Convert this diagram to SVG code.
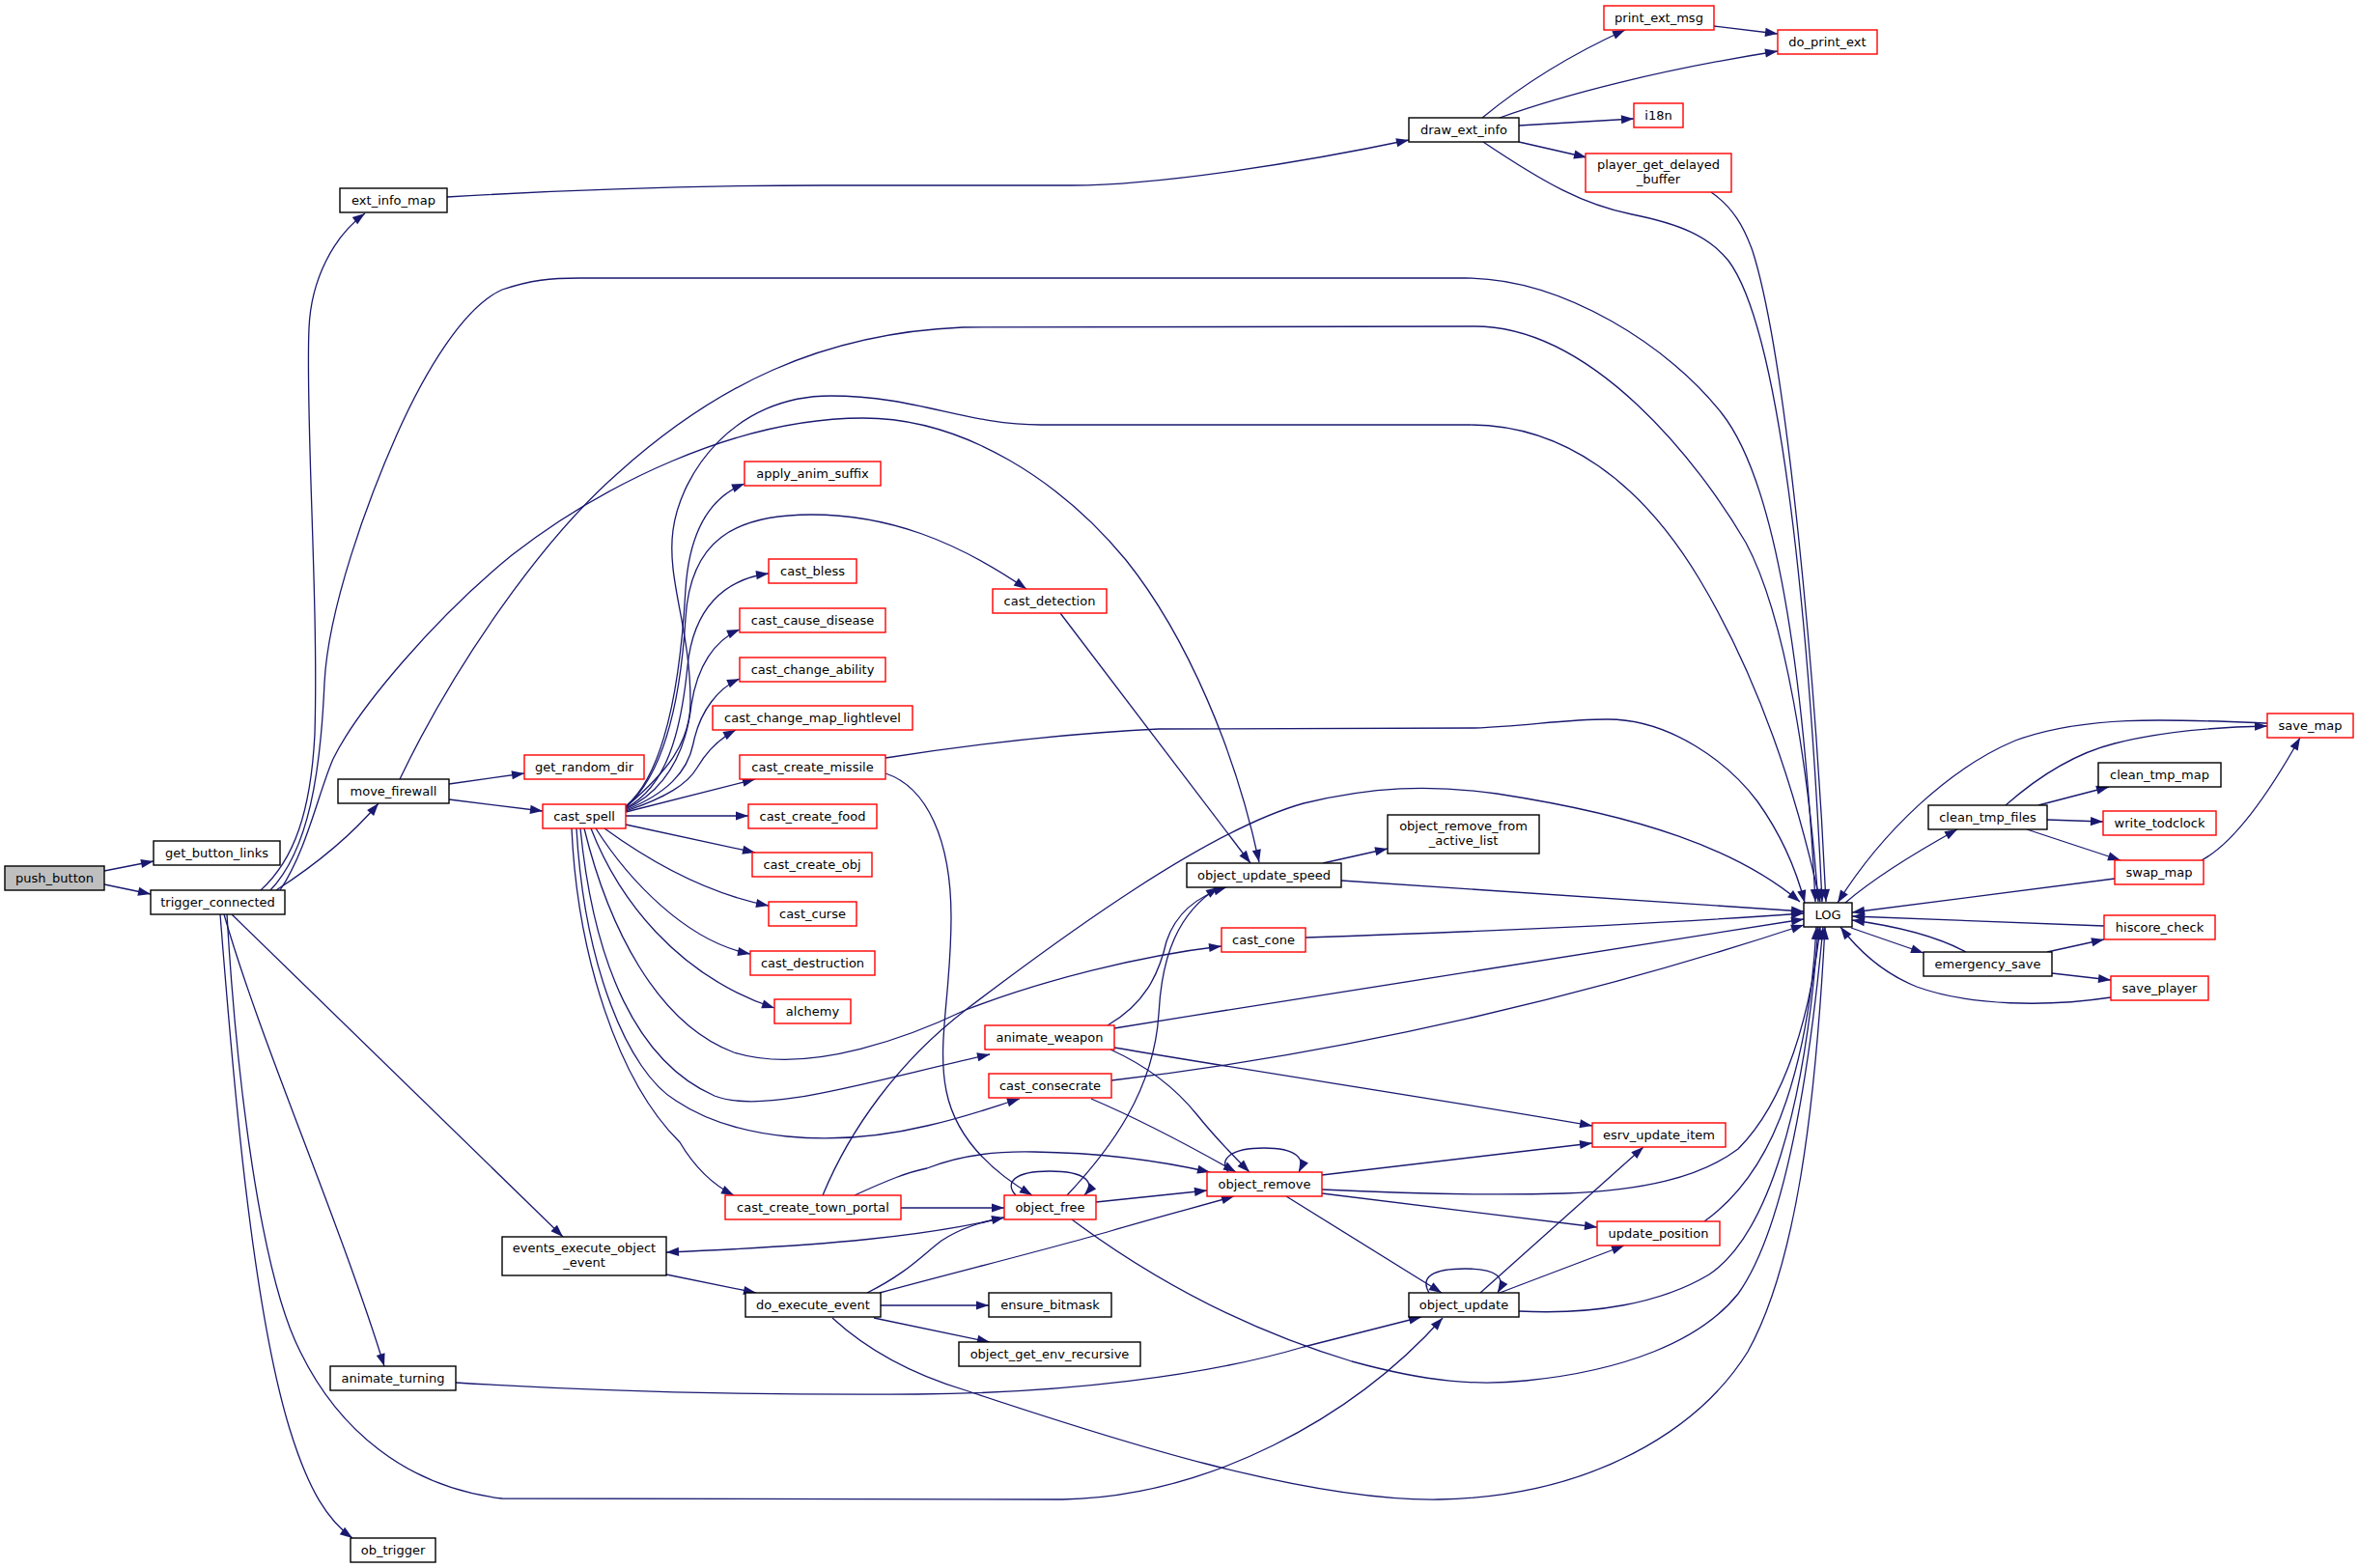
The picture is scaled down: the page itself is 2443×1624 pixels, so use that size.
<svg xmlns="http://www.w3.org/2000/svg" width="2443" height="1624" viewBox="0 0 2443 1624">
<style>
.n rect{fill:#fff;stroke:#000;stroke-width:1.4}
.n.r rect{stroke:#ff0000}
.n.root rect{fill:#bfbfbf}
.n text{font-family:"DejaVu Sans","Liberation Sans",sans-serif;font-size:13px;fill:#000;text-anchor:middle}
#edges path{fill:none;stroke:#191970;stroke-width:1.3;marker-end:url(#a)}
</style>
<defs>
<marker id="a" markerWidth="14" markerHeight="10" refX="13" refY="4.6" orient="auto" markerUnits="userSpaceOnUse" overflow="visible"><path d="M0,0 L13,4.6 L0,9.2 z" fill="#191970"/></marker>
</defs>
<rect width="2443" height="1624" fill="#fff"/>
<g id="edges">
<path d="M108,902 L159,892"/>
<path d="M108,916 L156,926"/>
<path d="M270,922 C305,890 322,840 326,760 C330,620 316,430 320,340 C322,290 345,245 378,221"/>
<path d="M286,922 C320,900 360,870 392,832"/>
<path d="M280,922 C320,880 332,800 336,707 C340,630 380,520 411,450 C440,385 480,318 520,300 C550,290 570,288 600,288 L1517,288 C1620,288 1730,360 1783,428 C1840,500 1868,700 1880,934"/>
<path d="M290,922 C318,880 330,820 345,786 C370,735 450,640 530,575 C620,505 760,433 894,433 C1000,433 1100,500 1166,580 C1230,660 1280,780 1304,893"/>
<path d="M240,947 L583,1281"/>
<path d="M232,947 C270,1080 350,1260 398,1415"/>
<path d="M228,947 C240,1100 260,1350 300,1480 C320,1545 340,1575 365,1593"/>
<path d="M235,947 C245,1120 270,1320 311,1400 C350,1480 420,1540 520,1552 L1100,1553 C1250,1550 1400,1470 1494,1365"/>
<path d="M463,204 C600,196 750,192 854,192 L1110,192 C1200,192 1350,168 1459,145"/>
<path d="M465,812 L543,801"/>
<path d="M465,828 L562,840"/>
<path d="M414,807 C470,690 560,560 640,490 C740,400 850,345 997,339 L1527,338 C1650,338 1760,480 1808,562 C1850,640 1873,800 1883,934"/>
<path d="M1535,122 C1580,85 1630,55 1683,31"/>
<path d="M1553,122 C1620,98 1720,72 1841,53"/>
<path d="M1573,130 L1692,123"/>
<path d="M1573,147 L1643,163"/>
<path d="M1536,147 C1600,190 1640,212 1690,222 C1740,232 1770,245 1790,270 C1850,350 1876,700 1887,934"/>
<path d="M1775,27 L1841,35"/>
<path d="M1772,199 C1795,215 1806,235 1815,260 C1850,370 1880,700 1891,934"/>
<path d="M648,835 C690,800 705,700 710,610 C714,550 735,515 771,501"/>
<path d="M648,837 C690,815 705,760 712,690 C718,630 750,600 796,594"/>
<path d="M648,838 C690,818 710,780 716,730 C722,690 740,663 766,652"/>
<path d="M648,839 C690,822 712,800 718,770 C725,735 745,712 766,703"/>
<path d="M648,840 C690,826 712,812 722,795 C732,778 745,765 762,756"/>
<path d="M648,841 L782,807"/>
<path d="M648,845 L775,845"/>
<path d="M648,854 L782,883"/>
<path d="M626,858 C670,890 730,925 796,938"/>
<path d="M617,858 C650,910 710,975 777,988"/>
<path d="M612,858 C640,930 700,1010 802,1044"/>
<path d="M648,836 C690,800 705,720 710,640 C715,560 760,533 840,533 C920,533 990,560 1063,610"/>
<path d="M605,858 C630,960 680,1060 760,1090 C840,1115 950,1070 1000,1046 C1080,1015 1180,990 1265,980"/>
<path d="M601,858 C615,1000 660,1100 740,1135 C790,1155 900,1120 1025,1092"/>
<path d="M597,858 C605,1000 650,1110 700,1140 C760,1180 860,1190 960,1166 C1000,1157 1030,1146 1056,1138"/>
<path d="M592,858 C598,990 640,1120 704,1183 C720,1210 740,1228 760,1238"/>
<path d="M648,836 C690,800 715,770 715,727 C715,650 690,600 697,549 C705,490 760,410 860,410 C950,410 1000,440 1078,440 L1522,440 C1620,440 1700,500 1760,600 C1820,700 1860,820 1885,934"/>
<path d="M917,785 C1000,772 1100,760 1200,755 L1527,754 C1580,752 1620,745 1665,745 C1730,745 1790,790 1820,830 C1845,865 1860,900 1869,935"/>
<path d="M917,801 C960,815 985,870 985,950 C985,1030 970,1080 980,1130 C990,1180 1030,1215 1069,1238"/>
<path d="M1098,635 L1295,894"/>
<path d="M1352,971 C1500,966 1700,958 1868,946"/>
<path d="M1147,1062 C1185,1040 1200,1010 1208,975 C1218,945 1240,928 1270,919"/>
<path d="M1154,1065 C1400,1025 1650,985 1868,952"/>
<path d="M1154,1085 C1300,1110 1500,1140 1649,1166"/>
<path d="M1150,1087 C1190,1105 1220,1130 1240,1155 C1260,1180 1280,1200 1294,1214"/>
<path d="M1151,1119 C1400,1090 1650,1030 1868,958"/>
<path d="M1130,1138 C1170,1155 1220,1180 1280,1214"/>
<path d="M852,1238 C880,1170 930,1100 1000,1046 C1100,970 1250,860 1350,832 C1420,815 1480,812 1550,822 C1700,845 1800,880 1864,934"/>
<path d="M933,1251 L1040,1251"/>
<path d="M885,1238 C920,1222 940,1214 960,1210 C990,1198 1030,1192 1071,1193 C1140,1194 1200,1202 1253,1214"/>
<path d="M1052,1238 C1040,1225 1050,1213 1087,1213 C1125,1213 1135,1225 1123,1238"/>
<path d="M1135,1245 L1250,1233"/>
<path d="M1105,1238 C1150,1190 1195,1130 1200,1050 C1203,990 1220,945 1262,919"/>
<path d="M1040,1261 C960,1280 860,1290 690,1297"/>
<path d="M1110,1263 C1200,1330 1300,1380 1400,1410 C1480,1432 1530,1435 1580,1430 C1680,1420 1760,1390 1800,1340 C1850,1270 1875,1100 1888,960"/>
<path d="M1370,894 L1437,879"/>
<path d="M1389,912 L1868,944"/>
<path d="M1272,1214 C1262,1200 1275,1189 1309,1189 C1343,1189 1352,1200 1345,1214"/>
<path d="M1369,1217 L1649,1184"/>
<path d="M1369,1232 C1450,1236 1550,1238 1620,1236 C1700,1233 1760,1220 1800,1190 C1850,1140 1875,1050 1885,960"/>
<path d="M1369,1236 L1654,1271"/>
<path d="M1332,1239 L1493,1339"/>
<path d="M1480,1339 C1470,1322 1485,1314 1517,1314 C1550,1314 1560,1323 1551,1339"/>
<path d="M1533,1339 L1702,1188"/>
<path d="M1553,1339 L1682,1290"/>
<path d="M1573,1358 C1650,1362 1720,1350 1770,1320 C1830,1280 1870,1150 1883,960"/>
<path d="M1765,1265 C1800,1240 1830,1200 1850,1140 C1870,1080 1878,1020 1881,960"/>
<path d="M690,1320 L783,1339"/>
<path d="M898,1339 C940,1318 955,1300 975,1285 C995,1272 1015,1266 1040,1261"/>
<path d="M911,1339 C1000,1315 1100,1290 1150,1275 C1200,1260 1240,1250 1278,1239"/>
<path d="M912,1352 L1024,1352"/>
<path d="M905,1365 L1025,1390"/>
<path d="M862,1365 C900,1400 950,1425 1000,1440 C1150,1490 1350,1555 1490,1553 C1650,1550 1760,1480 1810,1400 C1860,1310 1880,1150 1890,960"/>
<path d="M472,1432 C650,1443 800,1445 950,1444 C1100,1443 1250,1425 1350,1395 C1400,1382 1440,1372 1472,1364"/>
<path d="M1911,935 C1940,910 1980,885 2027,859"/>
<path d="M1917,961 L1992,987"/>
<path d="M2077,834 C2110,805 2150,780 2190,770 C2240,757 2300,753 2348,752"/>
<path d="M2111,834 L2184,815"/>
<path d="M2120,849 L2178,851"/>
<path d="M2099,859 L2196,891"/>
<path d="M2348,749 C2250,745 2160,740 2087,767 C2020,795 1950,860 1903,935"/>
<path d="M2280,891 C2310,875 2345,830 2382,764"/>
<path d="M2190,910 L1918,945"/>
<path d="M2179,959 L1918,949"/>
<path d="M2120,986 L2179,973"/>
<path d="M2125,1008 L2186,1015"/>
<path d="M2036,986 C2010,972 1970,960 1918,953"/>
<path d="M2186,1033 C2120,1043 2040,1042 1985,1022 C1950,1008 1925,985 1906,960"/>
</g>
<g id="push_button" class="n root"><rect x="5" y="897" width="103" height="25"/><text x="56.5" y="914">push_button</text></g>
<g id="get_button_links" class="n"><rect x="159" y="871" width="131" height="25"/><text x="224.5" y="888">get_button_links</text></g>
<g id="trigger_connected" class="n"><rect x="156" y="922" width="139" height="25"/><text x="225.5" y="939">trigger_connected</text></g>
<g id="ext_info_map" class="n"><rect x="352" y="195" width="111" height="25"/><text x="407.5" y="212">ext_info_map</text></g>
<g id="move_firewall" class="n"><rect x="350" y="807" width="115" height="25"/><text x="407.5" y="824">move_firewall</text></g>
<g id="get_random_dir" class="n r"><rect x="543" y="782" width="124" height="25"/><text x="605" y="799">get_random_dir</text></g>
<g id="cast_spell" class="n r"><rect x="562" y="833" width="86" height="25"/><text x="605" y="850">cast_spell</text></g>
<g id="events_execute_object_event" class="n"><rect x="520" y="1281" width="170" height="40"/><text x="605" y="1297">events_execute_object</text><text x="605" y="1312">_event</text></g>
<g id="animate_turning" class="n"><rect x="342" y="1415" width="130" height="25"/><text x="407" y="1432">animate_turning</text></g>
<g id="ob_trigger" class="n"><rect x="363" y="1593" width="88" height="25"/><text x="407" y="1610">ob_trigger</text></g>
<g id="apply_anim_suffix" class="n r"><rect x="771" y="478" width="141" height="25"/><text x="841.5" y="495">apply_anim_suffix</text></g>
<g id="cast_bless" class="n r"><rect x="796" y="579" width="91" height="25"/><text x="841.5" y="596">cast_bless</text></g>
<g id="cast_cause_disease" class="n r"><rect x="766" y="630" width="151" height="25"/><text x="841.5" y="647">cast_cause_disease</text></g>
<g id="cast_change_ability" class="n r"><rect x="766" y="681" width="151" height="25"/><text x="841.5" y="698">cast_change_ability</text></g>
<g id="cast_change_map_lightlevel" class="n r"><rect x="738" y="731" width="207" height="25"/><text x="841.5" y="748">cast_change_map_lightlevel</text></g>
<g id="cast_create_missile" class="n r"><rect x="766" y="782" width="151" height="25"/><text x="841.5" y="799">cast_create_missile</text></g>
<g id="cast_create_food" class="n r"><rect x="775" y="833" width="133" height="25"/><text x="841.5" y="850">cast_create_food</text></g>
<g id="cast_create_obj" class="n r"><rect x="779" y="883" width="124" height="25"/><text x="841" y="900">cast_create_obj</text></g>
<g id="cast_curse" class="n r"><rect x="796" y="934" width="91" height="25"/><text x="841.5" y="951">cast_curse</text></g>
<g id="cast_destruction" class="n r"><rect x="777" y="985" width="129" height="25"/><text x="841.5" y="1002">cast_destruction</text></g>
<g id="alchemy" class="n r"><rect x="802" y="1035" width="79" height="25"/><text x="841.5" y="1052">alchemy</text></g>
<g id="cast_detection" class="n r"><rect x="1028" y="610" width="118" height="25"/><text x="1087" y="627">cast_detection</text></g>
<g id="object_update_speed" class="n"><rect x="1229" y="894" width="160" height="25"/><text x="1309" y="911">object_update_speed</text></g>
<g id="object_remove_from_active_list" class="n"><rect x="1437" y="844" width="157" height="40"/><text x="1515.5" y="860">object_remove_from</text><text x="1515.5" y="875">_active_list</text></g>
<g id="cast_cone" class="n r"><rect x="1265" y="961" width="87" height="25"/><text x="1308.5" y="978">cast_cone</text></g>
<g id="animate_weapon" class="n r"><rect x="1020" y="1062" width="134" height="25"/><text x="1087" y="1079">animate_weapon</text></g>
<g id="cast_consecrate" class="n r"><rect x="1024" y="1112" width="127" height="25"/><text x="1087.5" y="1129">cast_consecrate</text></g>
<g id="cast_create_town_portal" class="n r"><rect x="751" y="1238" width="182" height="25"/><text x="842" y="1255">cast_create_town_portal</text></g>
<g id="object_free" class="n r"><rect x="1040" y="1238" width="95" height="25"/><text x="1087.5" y="1255">object_free</text></g>
<g id="do_execute_event" class="n"><rect x="772" y="1339" width="140" height="25"/><text x="842" y="1356">do_execute_event</text></g>
<g id="ensure_bitmask" class="n"><rect x="1024" y="1339" width="127" height="25"/><text x="1087.5" y="1356">ensure_bitmask</text></g>
<g id="object_get_env_recursive" class="n"><rect x="993" y="1390" width="188" height="25"/><text x="1087" y="1407">object_get_env_recursive</text></g>
<g id="object_remove" class="n r"><rect x="1250" y="1214" width="119" height="25"/><text x="1309.5" y="1231">object_remove</text></g>
<g id="esrv_update_item" class="n r"><rect x="1649" y="1163" width="138" height="25"/><text x="1718" y="1180">esrv_update_item</text></g>
<g id="update_position" class="n r"><rect x="1654" y="1265" width="127" height="25"/><text x="1717.5" y="1282">update_position</text></g>
<g id="object_update" class="n"><rect x="1459" y="1339" width="114" height="25"/><text x="1516" y="1356">object_update</text></g>
<g id="draw_ext_info" class="n"><rect x="1459" y="122" width="114" height="25"/><text x="1516" y="139">draw_ext_info</text></g>
<g id="print_ext_msg" class="n r"><rect x="1661" y="6" width="114" height="25"/><text x="1718" y="23">print_ext_msg</text></g>
<g id="do_print_ext" class="n r"><rect x="1841" y="31" width="103" height="25"/><text x="1892.5" y="48">do_print_ext</text></g>
<g id="i18n" class="n r"><rect x="1692" y="107" width="51" height="25"/><text x="1717.5" y="124">i18n</text></g>
<g id="player_get_delayed_buffer" class="n r"><rect x="1642" y="159" width="151" height="40"/><text x="1717.5" y="175">player_get_delayed</text><text x="1717.5" y="190">_buffer</text></g>
<g id="LOG" class="n"><rect x="1868" y="935" width="50" height="25"/><text x="1893" y="952">LOG</text></g>
<g id="clean_tmp_files" class="n"><rect x="1997" y="834" width="123" height="25"/><text x="2058.5" y="851">clean_tmp_files</text></g>
<g id="clean_tmp_map" class="n"><rect x="2173" y="790" width="127" height="25"/><text x="2236.5" y="807">clean_tmp_map</text></g>
<g id="write_todclock" class="n r"><rect x="2178" y="840" width="117" height="25"/><text x="2236.5" y="857">write_todclock</text></g>
<g id="swap_map" class="n r"><rect x="2190" y="891" width="92" height="25"/><text x="2236" y="908">swap_map</text></g>
<g id="save_map" class="n r"><rect x="2348" y="739" width="89" height="25"/><text x="2392.5" y="756">save_map</text></g>
<g id="hiscore_check" class="n r"><rect x="2179" y="948" width="115" height="25"/><text x="2236.5" y="965">hiscore_check</text></g>
<g id="emergency_save" class="n"><rect x="1992" y="986" width="133" height="25"/><text x="2058.5" y="1003">emergency_save</text></g>
<g id="save_player" class="n r"><rect x="2186" y="1011" width="101" height="25"/><text x="2236.5" y="1028">save_player</text></g>
</svg>
